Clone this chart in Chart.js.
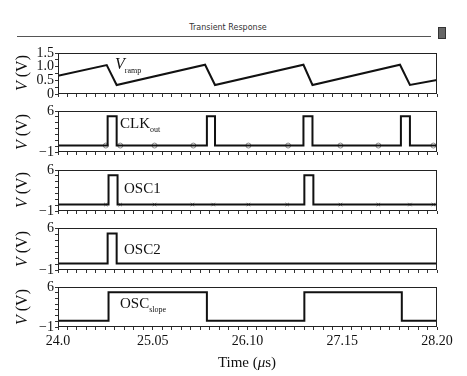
<!DOCTYPE html>
<html>
<head>
<meta charset="utf-8">
<script src="https://cdn.jsdelivr.net/npm/chart.js@4.4.1/dist/chart.umd.min.js"></script>
<style>
    html, body { margin: 0; padding: 0; background: #fff; }
    #page { position: relative; width: 467px; height: 376px; overflow: hidden; font-family: "Liberation Serif", serif; color: #111; }
    .panel { position: absolute; left: 0; width: 467px; }
    .lbl { position: absolute; font-size: 14px; white-space: nowrap; line-height: 1; }
    .lbl sub { font-size: 8px; vertical-align: -4px; }
    .ytitle { position: absolute; left: 22px; font-size: 16px; white-space: nowrap; line-height: 1; transform: translate(-50%, -50%) rotate(-90deg); }
</style>
</head>
<body>
<div id="page">
    <div style="position:absolute;left:0;top:23px;width:456px;text-align:center;font:8px 'DejaVu Sans',sans-serif;color:#333;">Transient Response</div>
    <div style="position:absolute;left:17px;top:36px;width:414px;height:1px;background:#555;"></div>
    <div style="position:absolute;left:438px;top:27px;width:6px;height:10px;background:#666;border:1px solid #333;"></div>

    <div class="panel" id="p0"><canvas id="c0"></canvas></div>
    <div class="panel" id="p1"><canvas id="c1"></canvas></div>
    <div class="panel" id="p2"><canvas id="c2"></canvas></div>
    <div class="panel" id="p3"><canvas id="c3"></canvas></div>
    <div class="panel" id="p4"><canvas id="c4"></canvas></div>

    <div class="ytitle" style="top:73px;"><i>V</i> (V)</div>
    <div class="ytitle" style="top:132px;"><i>V</i> (V)</div>
    <div class="ytitle" style="top:190px;"><i>V</i> (V)</div>
    <div class="ytitle" style="top:249px;"><i>V</i> (V)</div>
    <div class="ytitle" style="top:307px;"><i>V</i> (V)</div>

    <div class="lbl" style="left:115px;top:56px;font-size:16px;"><i>V</i><sub>ramp</sub></div>
    <div class="lbl" style="left:120px;top:116px;font-size:15px;">CLK<sub>out</sub></div>
    <div class="lbl" style="left:124px;top:181px;font-size:15px;">OSC1</div>
    <div class="lbl" style="left:124px;top:242px;font-size:15px;">OSC2</div>
    <div class="lbl" style="left:120px;top:296px;font-size:15px;">OSC<sub>slope</sub></div>

    <div style="position:absolute;left:0;top:354px;width:494px;text-align:center;font-size:15px;">Time (<i>μ</i>s)</div>
</div>

<script>
// x axis (time, µs)
const xMin = 24.0;
const xMax = 28.2;
const xTickValues = [24.0, 25.05, 26.10, 27.15, 28.20];
const xTickLabels = ["24.0", "25.05", "26.10", "27.15", "28.20"];

// y tick labels
const rampTickValues = [0, 0.5, 1.0, 1.5];
const rampTickLabels = ["0", "0.5", "1.0", "1.5"];
const pulseTickValues = [-1, 6];
const pulseTickLabels = ["\u22121", "6"];

// V_ramp
const rampTime = [24.00, 24.54, 24.65, 25.63, 25.74, 26.72, 26.82, 27.79, 27.90, 28.20];
const rampVolt = [0.67, 1.06, 0.33, 1.07, 0.33, 1.07, 0.33, 1.07, 0.33, 0.51];

// CLK_out (level changes)
const clkTime = [24.00, 24.55, 24.65, 25.65, 25.74, 26.72, 26.82, 27.80, 27.90, 28.20];
const clkVolt = [0.1, 5.1, 0.1, 5.1, 0.1, 5.1, 0.1, 5.1, 0.1, 0.1];
const clkMarkTime = [24.53, 24.69, 25.07, 25.50, 26.11, 26.55, 27.13, 27.55, 28.16];
const clkMarkVolt = [0.1, 0.1, 0.1, 0.1, 0.1, 0.1, 0.1, 0.1, 0.1];

// OSC1
const osc1Time = [24.00, 24.56, 24.66, 26.73, 26.83, 28.20];
const osc1Volt = [0.1, 5.1, 0.1, 5.1, 0.1, 0.1];
const osc1MarkTime = [24.53, 24.69, 25.07, 25.49, 25.72, 26.11, 26.54, 27.13, 27.55, 27.90, 28.16];
const osc1MarkVolt = [0.1, 0.1, 0.1, 0.1, 0.1, 0.1, 0.1, 0.1, 0.1, 0.1, 0.1];

// OSC2
const osc2Time = [24.00, 24.55, 24.65, 28.20];
const osc2Volt = [0.1, 5.1, 0.1, 0.1];

// OSC_slope
const slopeTime = [24.00, 24.56, 25.65, 26.73, 27.81, 28.20];
const slopeVolt = [0.1, 5.1, 0.1, 5.1, 0.1, 0.1];

// panel boxes in page pixels [top, bottom]
const panelBoxes = [[53, 94], [111, 152], [170, 211], [228, 270], [287, 327]];
const plotLeft = 58;
const plotRight = 437;
const pageH = 376;

const serif = "'Liberation Serif', serif";

const boxPlugin = {
    id: "box",
    afterDraw(chart) {
        const a = chart.chartArea;
        const c = chart.ctx;
        c.save();
        c.strokeStyle = "#222";
        c.lineWidth = 1;
        c.strokeRect(Math.round(a.left) + 0.5, Math.round(a.top) + 0.5,
                     Math.round(a.right - a.left) - 1, Math.round(a.bottom - a.top) - 1);
        c.restore();
    }
};

function toPoints(xs, ys) {
    return xs.map((x, i) => ({ x: x, y: ys[i] }));
}

function makePanel(idx, cfg) {
    const [top, bottom] = panelBoxes[idx];
    const isLast = idx === panelBoxes.length - 1;
    const canvasTop = top - 10;
    const canvasH = isLast ? pageH - canvasTop : (bottom - top) + 20;
    const xAxisH = isLast ? pageH - bottom : 10;

    const wrap = document.getElementById("p" + idx);
    wrap.style.top = canvasTop + "px";
    wrap.style.height = canvasH + "px";
    const canvas = document.getElementById("c" + idx);
    canvas.width = 467;
    canvas.height = canvasH;

    const datasets = [{
        data: toPoints(cfg.time, cfg.volt),
        borderColor: "#111",
        borderWidth: 2,
        pointRadius: 0,
        stepped: cfg.stepped ? "before" : false,
        tension: 0
    }];
    if (cfg.markTime) {
        datasets.push({
            data: toPoints(cfg.markTime, cfg.markVolt),
            showLine: false,
            pointStyle: cfg.markStyle,
            pointRadius: 2.5,
            pointBorderColor: "#888",
            pointBackgroundColor: "rgba(0,0,0,0)",
            pointBorderWidth: 1
        });
    }

    return new Chart(canvas.getContext("2d"), {
        type: "line",
        data: { datasets },
        plugins: [boxPlugin],
        options: {
            responsive: false,
            animation: false,
            devicePixelRatio: 1,
            layout: { padding: { top: 10, bottom: 0, left: 0, right: 467 - plotRight } },
            plugins: { legend: { display: false }, tooltip: { enabled: false } },
            scales: {
                x: {
                    type: "linear",
                    min: xMin,
                    max: xMax,
                    afterBuildTicks: s => {
                        const t = [];
                        for (let i = 0; i <= 40; i++) t.push({ value: xMin + i * 0.105 });
                        s.ticks = t;
                    },
                    afterFit: s => { s.height = xAxisH; },
                    ticks: {
                        display: isLast,
                        autoSkip: false,
                        maxRotation: 0,
                        padding: 3,
                        color: "#111",
                        font: { family: serif, size: 14 },
                        callback: (v, i) => (i % 10 === 0 ? xTickLabels[i / 10] : "")
                    },
                    grid: { drawOnChartArea: false, tickLength: 3, color: "#333" },
                    border: { display: false }
                },
                y: {
                    type: "linear",
                    min: cfg.yMin,
                    max: cfg.yMax,
                    afterBuildTicks: s => {
                        const t = [];
                        for (let v = cfg.yMin; v <= cfg.yMax + 1e-9; v += cfg.yStep) t.push({ value: +v.toFixed(3) });
                        s.ticks = t;
                    },
                    afterFit: s => { s.width = plotLeft; },
                    ticks: {
                        autoSkip: false,
                        padding: 1,
                        color: "#111",
                        font: { family: serif, size: 14 },
                        callback: v => {
                            const k = cfg.tickValues.findIndex(tv => Math.abs(tv - v) < 1e-6);
                            return k >= 0 ? cfg.tickLabels[k] : "";
                        }
                    },
                    grid: { drawOnChartArea: false, tickLength: 3, color: "#333" },
                    border: { display: false }
                }
            }
        }
    });
}

makePanel(0, { time: rampTime, volt: rampVolt, yMin: 0, yMax: 1.5, yStep: 0.25,
               tickValues: rampTickValues, tickLabels: rampTickLabels });
makePanel(1, { time: clkTime, volt: clkVolt, stepped: true, yMin: -1, yMax: 6, yStep: 1,
               tickValues: pulseTickValues, tickLabels: pulseTickLabels,
               markTime: clkMarkTime, markVolt: clkMarkVolt, markStyle: "circle" });
makePanel(2, { time: osc1Time, volt: osc1Volt, stepped: true, yMin: -1, yMax: 6, yStep: 1,
               tickValues: pulseTickValues, tickLabels: pulseTickLabels,
               markTime: osc1MarkTime, markVolt: osc1MarkVolt, markStyle: "crossRot" });
makePanel(3, { time: osc2Time, volt: osc2Volt, stepped: true, yMin: -1, yMax: 6, yStep: 1,
               tickValues: pulseTickValues, tickLabels: pulseTickLabels });
makePanel(4, { time: slopeTime, volt: slopeVolt, stepped: true, yMin: -1, yMax: 6, yStep: 1,
               tickValues: pulseTickValues, tickLabels: pulseTickLabels });
</script>
</body>
</html>
